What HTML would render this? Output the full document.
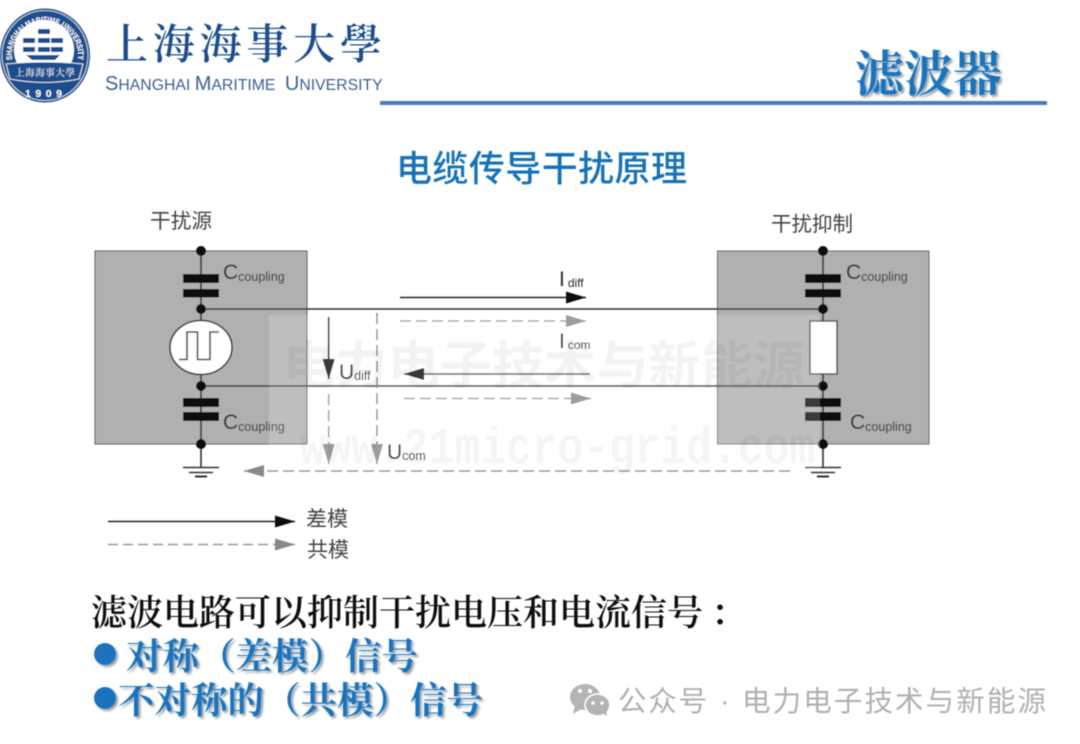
<!DOCTYPE html>
<html><head><meta charset="utf-8">
<style>
html,body{margin:0;padding:0;background:#fff;width:1080px;height:744px;overflow:hidden}
svg{display:block}
.cjk{font-family:"Liberation Sans","Noto Sans CJK SC",sans-serif}
.ser{font-family:"Liberation Serif","Noto Serif CJK SC",serif}
.lat{font-family:"Liberation Sans",sans-serif}
.mono{font-family:"Liberation Mono",monospace}
</style></head><body>
<svg width="1080" height="744" viewBox="0 0 1080 744" xmlns="http://www.w3.org/2000/svg">
<defs>
<filter id="b" x="-5%" y="-5%" width="110%" height="110%"><feGaussianBlur stdDeviation="0.45"/></filter>
<filter id="s" x="-5%" y="-10%" width="110%" height="125%"><feDropShadow dx="2" dy="2" stdDeviation="1" flood-color="#000" flood-opacity="0.4"/></filter>
<marker id="k" viewBox="0 0 20 12" refX="20" refY="6" markerWidth="20" markerHeight="12" markerUnits="userSpaceOnUse" orient="auto"><path d="M0 0L20 6L0 12z" fill="#111"/></marker>
<marker id="g" viewBox="0 0 20 12" refX="20" refY="6" markerWidth="20" markerHeight="12" markerUnits="userSpaceOnUse" orient="auto"><path d="M0 0L20 6L0 12z" fill="#888"/></marker>
</defs>
<g filter="url(#b)">
<!-- Logo seal -->
<ellipse cx="45" cy="55.500" rx="45" ry="47" fill="#1f4e8c"/>
<ellipse cx="45" cy="55.500" rx="43" ry="45" fill="none" stroke="#dfe6f0" stroke-width="0.8"/>
<circle cx="44" cy="50" r="30" fill="#fff"/>
<path d="M12.300 60A33 33 0 1 1 77.700 60" id="arc" fill="none"/>
<text class="lat" font-size="8.300" font-weight="700" fill="#fff"><textPath href="#arc" textLength="112" lengthAdjust="spacingAndGlyphs">SHANGHAI MARITIME UNIVERSITY</textPath></text>
<g fill="#1f4e8c">
<rect x="38" y="29" width="12" height="5"/>
<rect x="23" y="38" width="12" height="5"/><rect x="38" y="38" width="12" height="5"/><rect x="51" y="38" width="12" height="5"/>
<rect x="23" y="47" width="12" height="5"/><rect x="38" y="47" width="12" height="5"/><rect x="51" y="47" width="12" height="5"/>
<path d="M26 55H60L55 60H32z"/>
</g>
<path d="M6 64Q45 60 83 64L79 79Q45 86 10 79z" fill="#1f4e8c" stroke="#fff" stroke-width="0.8"/>
<text class="ser" x="15" y="76" font-size="9.500" fill="#fff" textLength="60">上海海事大學</text>
<text class="lat" x="25" y="97" font-size="10.500" font-weight="700" fill="#fff" textLength="37">1909</text>
<!-- Logo text -->
<text class="ser" x="106" y="59" font-size="42" font-weight="600" fill="#1f4e8c" textLength="276" lengthAdjust="spacing">上海海事大學</text>
<text class="lat" x="105" y="90" fill="#3a6194" font-size="20">S<tspan font-size="15.800">HANGHAI </tspan>M<tspan font-size="15.800">ARITIME  </tspan><tspan dx="5">U</tspan><tspan font-size="15.800">NIVERSITY</tspan></text>
<!-- Header -->
<rect x="380" y="101" width="667" height="4" fill="#4a7ebb"/>
<text class="ser" x="855" y="91" font-size="49" font-weight="700" fill="#1a73bd" filter="url(#s)">滤波器</text>
<text class="cjk" x="396" y="181" font-size="36" font-weight="500" fill="#1272b8" textLength="291">电缆传导干扰原理</text>

<!-- Boxes -->
<rect x="95" y="251" width="212" height="193" fill="#b0b0b0" stroke="#555" stroke-width="1"/>
<rect x="717.500" y="251" width="211.500" height="193" fill="#b0b0b0" stroke="#666" stroke-width="1"/>
<text class="cjk" x="150" y="228" font-size="20.700" fill="#444">干扰源</text>
<text class="cjk" x="771" y="231" font-size="20.500" fill="#444">干扰抑制</text>

<!-- Wires -->
<g stroke="#333" stroke-width="1.600" fill="none">
<path d="M201 251V467M823 251V467"/>
<path d="M201 309H823M201 386H823"/>
</g>
<g fill="#111">
<circle cx="201" cy="251" r="5"/><circle cx="201" cy="309" r="5"/><circle cx="201" cy="386" r="5"/><circle cx="201" cy="444" r="5"/>
<circle cx="823" cy="251" r="5"/><circle cx="823" cy="309" r="5"/><circle cx="823" cy="386" r="5"/><circle cx="823" cy="444" r="5"/>
<rect x="183" y="274" width="36" height="9"/><rect x="183" y="289" width="36" height="8.500"/>
<rect x="183" y="398" width="36" height="9"/><rect x="183" y="412" width="36" height="9"/>
<rect x="805" y="274" width="36" height="9"/><rect x="805" y="289" width="36" height="8.500"/>
<rect x="805" y="398" width="36" height="9"/><rect x="805" y="412" width="36" height="9"/>
</g>
<!-- Source -->
<ellipse cx="201" cy="347.500" rx="31" ry="27" fill="#fff" stroke="#333" stroke-width="1.600"/>
<path d="M179 359.500H187V332H197.500V359.500H210V332H219" fill="none" stroke="#444" stroke-width="1.600"/>
<!-- Resistor -->
<rect x="810" y="321" width="27" height="53" fill="#fff" stroke="#444" stroke-width="1.400"/>
<!-- Grounds -->
<g stroke="#333" fill="none">
<path d="M183 467.500H219M189 472.500H213" stroke-width="1.500"/><path d="M195 476.500H207" stroke-width="2"/>
<path d="M805 467.500H841M811 472.500H835" stroke-width="1.500"/><path d="M817 476.500H829" stroke-width="2"/>
</g>

<!-- Arrows -->
<g stroke="#222" stroke-width="1.600" fill="none">
<path d="M400 297.500H586" marker-end="url(#k)"/>
<path d="M590 374H404" marker-end="url(#k)" stroke="#555"/>
<path d="M328.700 317V379" marker-end="url(#k)"/>
</g>
<g stroke="#999" stroke-width="1.400" fill="none" stroke-dasharray="11 5">
<path d="M400 321H586" marker-end="url(#g)"/>
<path d="M404 398.500H591" marker-end="url(#g)"/>
<path d="M790 471H244" marker-end="url(#g)"/>
<path d="M328.700 394V464" marker-end="url(#g)" stroke="#888"/>
<path d="M377 313V464" marker-end="url(#g)" stroke="#777"/>
</g>

<!-- Labels -->
<g class="lat" fill="#2a2a2a">
<text x="223" y="279" font-size="21">C<tspan font-size="12.500" dy="2">coupling</tspan></text>
<text x="223" y="429" font-size="21">C<tspan font-size="12.500" dy="2">coupling</tspan></text>
<text x="846" y="279" font-size="21">C<tspan font-size="12.500" dy="2">coupling</tspan></text>
<text x="850" y="429" font-size="21">C<tspan font-size="12.500" dy="2">coupling</tspan></text>
<text x="559" y="286" font-size="21">I<tspan font-size="12" dy="1" dx="3">diff</tspan></text>
<text x="559" y="348" font-size="21">I<tspan font-size="12" dy="1" dx="3">com</tspan></text>
<text x="339" y="379" font-size="21">U<tspan font-size="12.500" dy="1">diff</tspan></text>
<text x="387" y="459" font-size="21">U<tspan font-size="12.500" dy="1">com</tspan></text>
</g>

<!-- Watermark -->
<rect x="269" y="315" width="551" height="155" fill="#fff" opacity="0.18"/>
<text class="cjk" x="283" y="384" font-size="52" font-weight="700" fill="#000" opacity="0.045" textLength="522">电力电子技术与新能源</text>
<text class="mono" x="300" y="463" font-size="52" font-weight="700" fill="#000" opacity="0.035" textLength="515" lengthAdjust="spacingAndGlyphs">www.21micro-grid.com</text>

<!-- Legend -->
<path d="M108 521.500H295" stroke="#222" stroke-width="1.600" marker-end="url(#k)"/>
<path d="M108 544.500H295" stroke="#999" stroke-width="1.400" stroke-dasharray="10 5" marker-end="url(#g)"/>
<text class="cjk" x="306" y="526" font-size="21" fill="#444">差模</text>
<text class="cjk" x="307" y="557" font-size="21" fill="#444">共模</text>

<!-- Bottom text -->
<text class="ser" x="91" y="625" font-size="36" font-weight="600" fill="#111">滤波电路可以抑制干扰电压和电流信号<tspan dx="8">：</tspan></text>
<g filter="url(#s)" fill="#1a73bd">
<circle cx="105" cy="654" r="11"/>
<text class="ser" x="126" y="669" font-size="36.500" font-weight="700">对称（差模）信号</text>
<circle cx="105" cy="698" r="11"/>
<text class="ser" x="118" y="713" font-size="36.500" font-weight="700">不对称的（共模）信号</text>
</g>

<!-- WeChat footer -->
<g fill="#b4b4b4">
<ellipse cx="585" cy="697" rx="15" ry="13"/><path d="M575 705L573 714L583 708z"/>
<ellipse cx="597.500" cy="705" rx="12.500" ry="11" stroke="#fff" stroke-width="1.500"/><path d="M602 713L607 716L606 709z"/>
</g>
<g fill="#fff"><circle cx="580" cy="691" r="2"/><circle cx="590" cy="691" r="2"/><circle cx="593" cy="703" r="1.700"/><circle cx="602" cy="703" r="1.700"/></g>
<g class="cjk" font-size="28.500" fill="#b0b0b0">
<text x="618" y="711" textLength="89">公众号</text>
<text x="720" y="711">·</text>
<text x="742" y="711" textLength="304">电力电子技术与新能源</text>
</g>
</g>
</svg>
</body></html>
